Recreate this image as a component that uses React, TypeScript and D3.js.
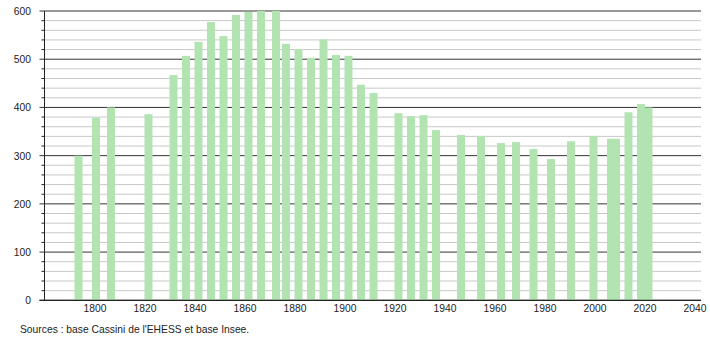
import React from "react";
import * as d3 from "d3";

const years = [1793, 1800, 1806, 1821, 1831, 1836, 1841, 1846, 1851, 1856, 1861, 1866, 1872, 1876, 1881, 1886, 1891, 1896, 1901, 1906, 1911, 1921, 1926, 1931, 1936, 1946, 1954, 1962, 1968, 1975, 1982, 1990, 1999, 2006, 2008, 2013, 2018, 2021];
const population = [300, 379, 400, 386, 467, 507, 536, 577, 548, 592, 598, 600, 600, 532, 521, 503, 541, 509, 507, 447, 430, 388, 382, 384, 353, 343, 341, 326, 328, 314, 293, 330, 341, 335, 335, 390, 407, 400];
const xTicks = [1800, 1820, 1840, 1860, 1880, 1900, 1920, 1940, 1960, 1980, 2000, 2020, 2040];
const yMajor = [0, 100, 200, 300, 400, 500, 600];
const sourceText = "Sources : base Cassini de l'EHESS et base Insee.";

const W = 710;
const H = 340;
const left = 44.5;
const right = 701;
const top = 11;
const bottom = 300.3;
const font = "'Liberation Sans', Arial, sans-serif";

export default function App() {
  const x = d3.scaleLinear().domain([1780, 2042.6]).range([left + 1.5, right + 1.5]);
  const y = d3.scaleLinear().domain([0, 600]).range([bottom, top]);
  const yMinor = d3.range(0, 601, 20).filter((v) => v % 100 !== 0);
  const bw = 8;
  return (
    <svg width={W} height={H} style={{ position: "absolute", left: 0, top: 0, background: "#fff" }}>
      {yMinor.map((v) => (
        <line key={"m" + v} x1={left} x2={right} y1={y(v)} y2={y(v)} stroke="#c8c8c8" strokeWidth={1} />
      ))}
      {yMinor.map((v) => (
        <line key={"mt" + v} x1={left - 3} x2={left} y1={y(v)} y2={y(v)} stroke="#222" strokeWidth={1} />
      ))}
      {yMajor.map((v) => (
        <line key={"M" + v} x1={left - 5} x2={right} y1={y(v)} y2={y(v)} stroke="#333" strokeWidth={1} />
      ))}
      {years.map((yr, i) => (
        <rect
          key={yr}
          x={x(yr) - bw / 2}
          y={y(population[i])}
          width={bw}
          height={y(0) - y(population[i])}
          fill="#b2e4b2"
        />
      ))}
      <line x1={left} x2={left} y1={top} y2={bottom} stroke="#222" strokeWidth={1} />
      <line x1={left - 5} x2={right} y1={bottom} y2={bottom} stroke="#222" strokeWidth={1.2} />
      {yMajor.map((v) => (
        <text key={"yl" + v} x={31} y={y(v) + 4} textAnchor="end" fontFamily={font} fontSize={10.3} fill="#222">
          {v}
        </text>
      ))}
      {xTicks.map((t) => (
        <text key={"xl" + t} x={x(t) - 1} y={312} textAnchor="middle" fontFamily={font} fontSize={10.3} fill="#222">
          {t}
        </text>
      ))}
      <text x={20} y={333} fontFamily={font} fontSize={10.3} fill="#222">
        {sourceText}
      </text>
    </svg>
  );
}
